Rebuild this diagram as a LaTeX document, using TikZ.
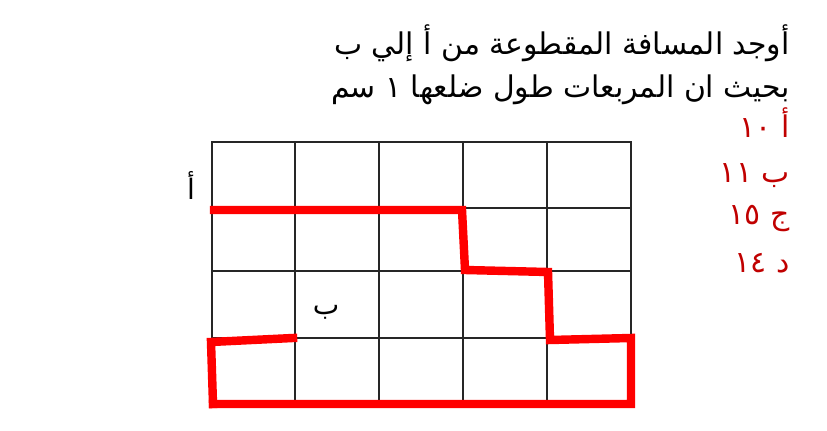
\documentclass[tikz,border=0pt]{standalone}
\usepackage{fontspec}
\newfontfamily\arabicfont[Script=Arabic]{DejaVu Sans}
\TeXXeTstate=1
\definecolor{choicered}{RGB}{192,0,0}
\begin{document}
\begin{tikzpicture}[x=0.02cm, y=-0.02cm,
    gridline/.style = {line width=0.9pt, black!85},
    pathline/.style = {line width=4.8pt, red, line cap=rect},
    question/.style = {anchor=base east, inner sep=0pt, font=\arabicfont\fontsize{17}{20}\selectfont},
    choice/.style = {question, text=choicered},
    point/.style = {inner sep=0pt, font=\arabicfont\fontsize{16}{19}\selectfont}]
    \useasboundingbox (0,0) rectangle (827,431);
    % grid of 1 cm squares
    \draw[gridline] (212,142) rectangle (631,405);
    \foreach \x in {295,379,463,547}
        \draw[gridline] (\x,142) -- (\x,405);
    \foreach \y in {208,271,338}
        \draw[gridline] (212,\y) -- (631,\y);
    % path from A to B
    \coordinate (p1) at (214,210);
    \coordinate (p2) at (462,210);
    \coordinate (p3) at (465,270);
    \coordinate (p4) at (548,272);
    \coordinate (p5) at (550,340);
    \coordinate (p6) at (631,338);
    \coordinate (p7) at (631,404);
    \coordinate (p8) at (213,404);
    \coordinate (p9) at (211,342);
    \coordinate (p10) at (293,338);
    \draw[pathline] (p1) -- (p2) -- (p3) -- (p4) -- (p5) -- (p6) -- (p7) -- (p8);
    \draw[pathline] (p8) -- (p9) -- (p10);
    % texts
    \node[question] (line1) at (790,55) {\beginR أوجد المسافة المقطوعة من أ إلي ب\endR};
    \node[question] (line2) at (790,98) {\beginR بحيث ان المربعات طول ضلعها ١ سم\endR};
    \node[choice] (choiceA) at (790,138) {\beginR أ ١٠\endR};
    \node[choice] (choiceB) at (790,183) {\beginR ب ١١\endR};
    \node[choice] (choiceC) at (790,225) {\beginR ج ١٥\endR};
    \node[choice] (choiceD) at (790,273) {\beginR د ١٤\endR};
    \node[point, anchor=base] (pointA) at (191,200) {\beginR أ\endR};
    \node[point, anchor=base] (pointB) at (326,315) {\beginR ب\endR};
\end{tikzpicture}
\end{document}
